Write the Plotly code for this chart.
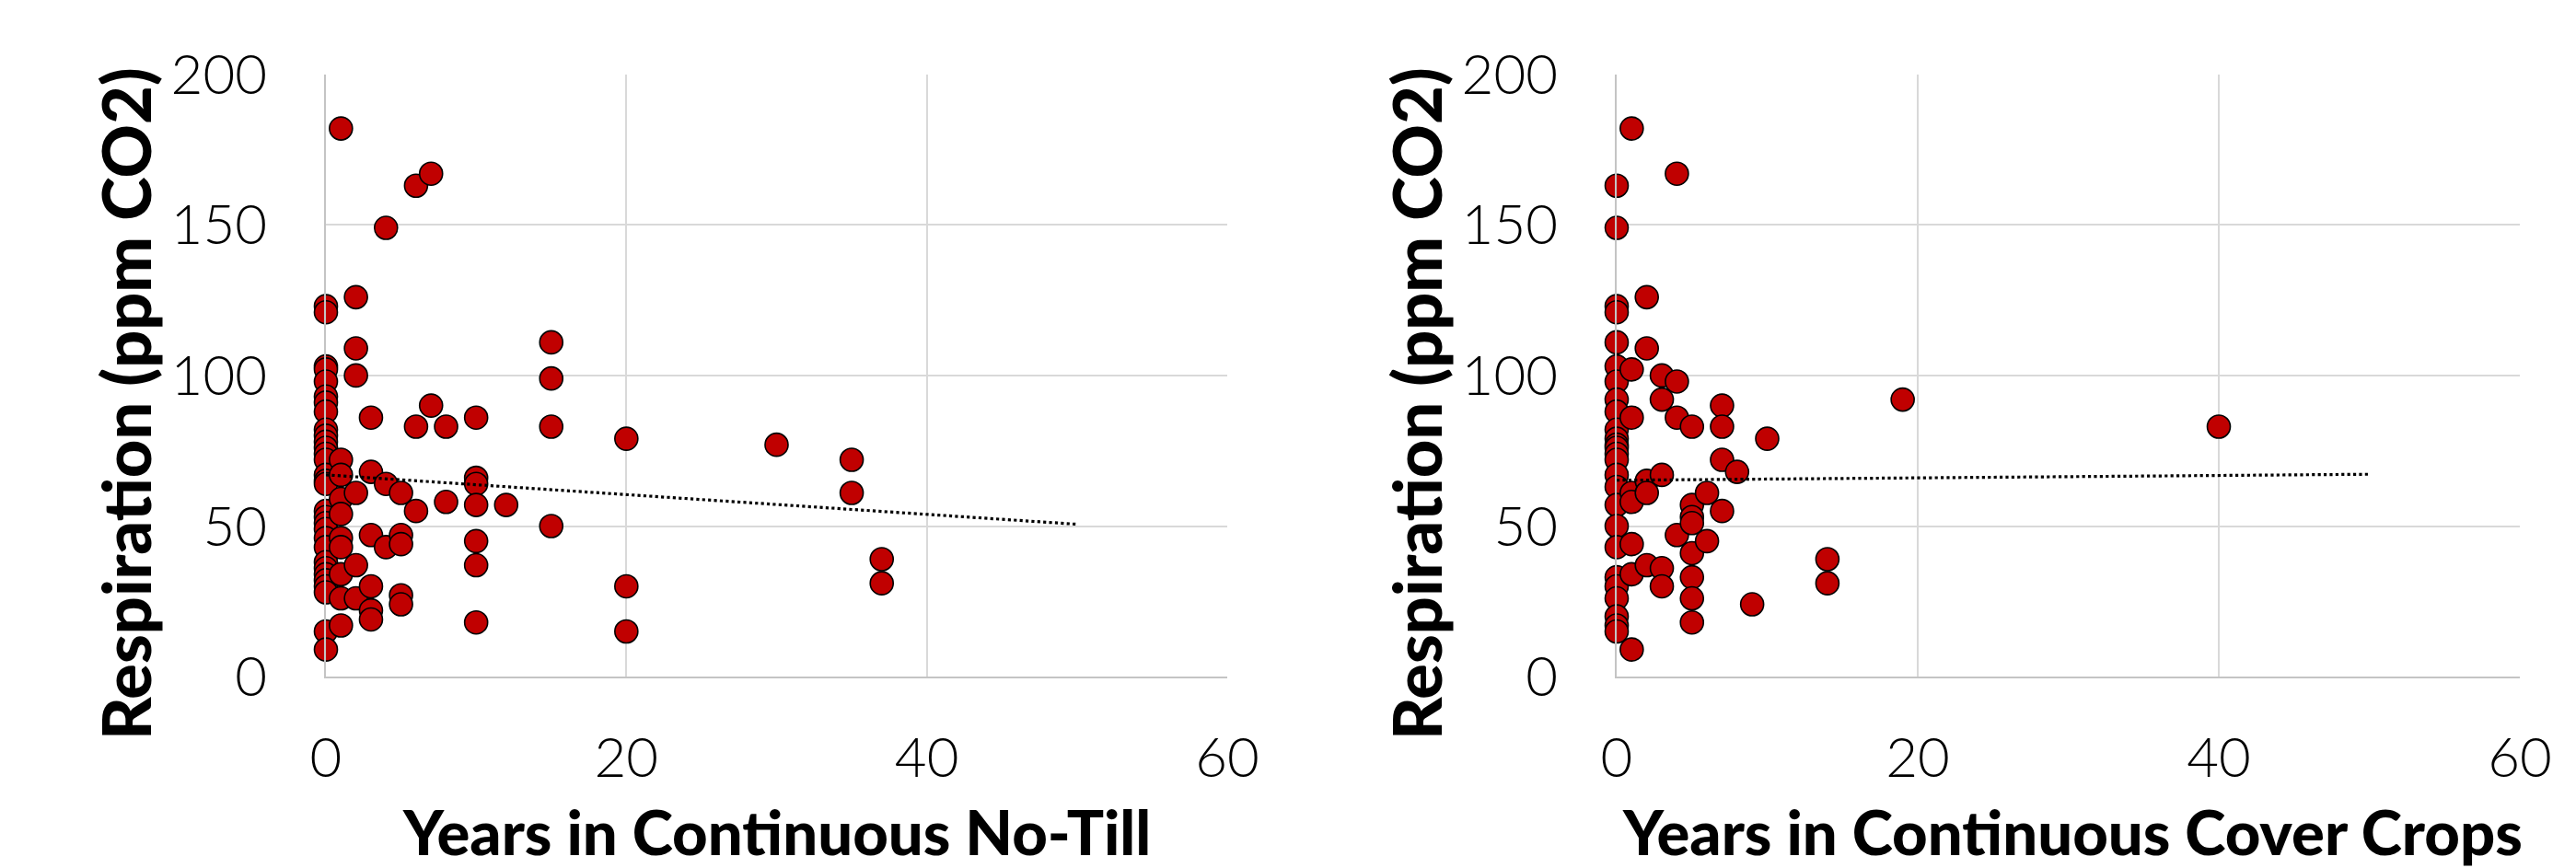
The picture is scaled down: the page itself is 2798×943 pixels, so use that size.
import plotly.graph_objects as go

# ---- Data ----
# Left panel: Years in Continuous No-Till vs Respiration
notill_x = ([0]*31 + [1]*10 + [2]*6 + [3]*6 + [4]*3 + [5]*5 + [6]*3 + [7]*2 + [8]*2
            + [10]*7 + [12] + [15]*4 + [20]*3 + [30] + [35]*2 + [37]*2)
notill_y = [123, 121, 103, 102, 98, 93, 91, 88, 82, 80, 78, 76, 74, 72, 67, 65, 64,
            55, 53, 51, 49, 46, 43, 38, 36, 34, 32, 30, 28, 15, 9,
            182, 72, 67, 59, 54, 46, 43, 34, 26, 17,
            126, 109, 100, 61, 37, 26,
            86, 68, 47, 30, 22, 19,
            149, 64, 43,
            61, 47, 44, 27, 24,
            163, 83, 55,
            167, 90,
            83, 58,
            86, 66, 64, 57, 45, 37, 18,
            57,
            111, 99, 83, 50,
            79, 30, 15,
            77,
            72, 61,
            39, 31]

# Right panel: Years in Continuous Cover Crops vs Respiration
cover_x = ([0]*26 + [1]*8 + [2]*5 + [3]*5 + [4]*4 + [5]*8 + [6]*2 + [7]*4 + [8] + [9]
           + [10] + [14]*2 + [19] + [40])
cover_y = [163, 149, 123, 121, 111, 103, 98, 92, 88, 82, 79, 77, 76, 74, 72, 67, 63,
           57, 50, 43, 33, 30, 26, 20, 17, 15,
           182, 102, 86, 61, 58, 44, 34, 9,
           126, 109, 65, 61, 37,
           100, 92, 67, 36, 30,
           167, 98, 86, 47,
           83, 57, 53, 51, 41, 33, 26, 18,
           61, 45,
           90, 83, 72, 55,
           68,
           24,
           79,
           39, 31,
           92,
           83]

# Linear trend lines (end points)
notill_trend_x = [0, 50]
notill_trend_y = [67.0, 50.6]
cover_trend_x = [0, 50]
cover_trend_y = [65.2, 67.2]

x_ticks = [0, 20, 40, 60]
y_ticks = [0, 50, 100, 150, 200]
y_title = "Respiration (ppm CO2)"
x_title_left = "Years in Continuous No-Till"
x_title_right = "Years in Continuous Cover Crops"

W, H = 2798, 943
RED = "#C00000"
GRID = "#D9D9D9"
AXIS = "#C4C4C4"
FONT = "Lato"

fig = go.Figure()

marker = dict(size=25, color=RED, line=dict(color="black", width=1.6))

fig.add_trace(go.Scatter(x=notill_x, y=notill_y, mode="markers", marker=marker,
                         cliponaxis=False, xaxis="x", yaxis="y", showlegend=False))
fig.add_trace(go.Scatter(x=notill_trend_x, y=notill_trend_y, mode="lines",
                         line=dict(color="black", width=3.2, dash="dot"),
                         xaxis="x", yaxis="y", showlegend=False))
fig.add_trace(go.Scatter(x=cover_x, y=cover_y, mode="markers", marker=marker,
                         cliponaxis=False, xaxis="x2", yaxis="y2", showlegend=False))
fig.add_trace(go.Scatter(x=cover_trend_x, y=cover_trend_y, mode="lines",
                         line=dict(color="black", width=3.2, dash="dot"),
                         xaxis="x2", yaxis="y2", showlegend=False))

ydom = [1 - 735.1 / H, 1 - 80.7 / H]
tick_font = dict(family=FONT, size=60, color="black", weight=300)

def xaxis(dom, anchor):
    return dict(domain=dom, anchor=anchor, range=[0, 60], tickvals=x_ticks,
                showgrid=True, gridcolor=GRID, gridwidth=2,
                showline=True, linecolor=AXIS, linewidth=2, mirror=False,
                zeroline=False, ticks="", ticklabelstandoff=35, automargin=False,
                tickfont=tick_font)

def yaxis(anchor):
    return dict(domain=ydom, anchor=anchor, range=[0, 200], tickvals=y_ticks,
                showgrid=True, gridcolor=GRID, gridwidth=2,
                showline=True, linecolor=AXIS, linewidth=2,
                zeroline=False, ticks="", ticklabelstandoff=50, automargin=False,
                tickfont=tick_font)

fig.update_layout(
    width=W, height=H,
    margin=dict(l=0, r=0, t=0, b=0, autoexpand=False),
    paper_bgcolor="white", plot_bgcolor="white",
    xaxis=xaxis([354 / W, 1333 / W], "y"),
    yaxis=yaxis("x"),
    xaxis2=xaxis([1756 / W, 2737 / W], "y2"),
    yaxis2=yaxis("x2"),
)

ytitle_font = dict(family=FONT, size=72, color="black", weight=900)
xtitle_font = dict(family=FONT, size=67, color="black", weight=900)
fig.add_annotation(text=y_title, textangle=-90, xref="paper", yref="paper",
                   x=136 / W, y=1 - 439 / H, xanchor="center", yanchor="middle",
                   showarrow=False, font=ytitle_font)
fig.add_annotation(text=y_title, textangle=-90, xref="paper", yref="paper",
                   x=1538 / W, y=1 - 439 / H, xanchor="center", yanchor="middle",
                   showarrow=False, font=ytitle_font)
fig.add_annotation(text=x_title_left, xref="paper", yref="paper",
                   x=843 / W, y=1 - 903 / H, xanchor="center", yanchor="middle",
                   showarrow=False, font=xtitle_font, borderpad=0)
fig.add_annotation(text=x_title_right, xref="paper", yref="paper",
                   x=2251 / W, y=1 - 903 / H, xanchor="center", yanchor="middle",
                   showarrow=False, font=xtitle_font, borderpad=0)

fig.write_html("out.html", config={"displayModeBar": False},
               post_script="document.body.style.margin='0';document.body.style.overflow='hidden';")
